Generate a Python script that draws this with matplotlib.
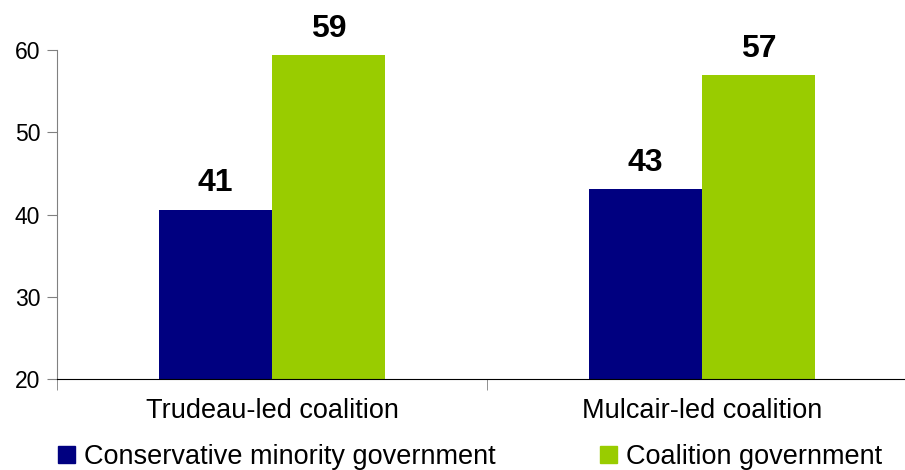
import matplotlib.pyplot as plt
from matplotlib.patches import Patch

plt.rcParams['font.family'] = ['Liberation Sans', 'DejaVu Sans']

categories = ['Trudeau-led coalition', 'Mulcair-led coalition']
series_names = ['Conservative minority government', 'Coalition government']
conservative = [40.6, 43.1]
coalition = [59.4, 56.9]
colors = ['#000080', '#99CC00']
yticks = [20, 30, 40, 50, 60]

fig = plt.figure(figsize=(9.05, 4.70), dpi=100)
ax = fig.add_axes([57 / 905, 91 / 470, 860 / 905, 329 / 470])

x = range(len(categories))
w = 0.263
b1 = ax.bar([i - w / 2 for i in x], conservative, w, color=colors[0], bottom=0)
b2 = ax.bar([i + w / 2 for i in x], coalition, w, color=colors[1], bottom=0)

for bars, vals in ((b1, conservative), (b2, coalition)):
    for bar, v in zip(bars, vals):
        ax.annotate(f'{v:.0f}', (bar.get_x() + bar.get_width() / 2, v),
                    xytext=(0, 8), textcoords='offset points',
                    ha='center', va='bottom', fontsize=23, fontweight='bold')

ax.set_ylim(20, 60)
ax.set_xlim(-0.5, 1.5)
ax.set_yticks(yticks)
ax.tick_params(axis='y', labelsize=16.5, length=7, color='#808080', pad=5)

# category labels without ticks, separators at the group boundaries
ax.set_xticks(list(x))
ax.set_xticklabels(categories, fontsize=19.5)
ax.tick_params(axis='x', length=0, pad=14)
ax.set_xticks([-0.5, 0.5], minor=True)
ax.tick_params(axis='x', which='minor', length=8, color='#808080', direction='out')

for s in ('top', 'right'):
    ax.spines[s].set_visible(False)
ax.spines['left'].set_color('#808080')
ax.spines['bottom'].set_color('black')
ax.spines['left'].set_bounds(20, 60)

handles = [Patch(color=c) for c in colors]
fig.legend(handles, series_names, loc='center left', bbox_to_anchor=(0.064, 0.028),
           ncol=2, frameon=False, fontsize=19.5, handlelength=0.62, handleheight=0.62,
           handletextpad=0.35, columnspacing=3.85, borderaxespad=0, borderpad=0)

fig.savefig('out.png', dpi=100)
